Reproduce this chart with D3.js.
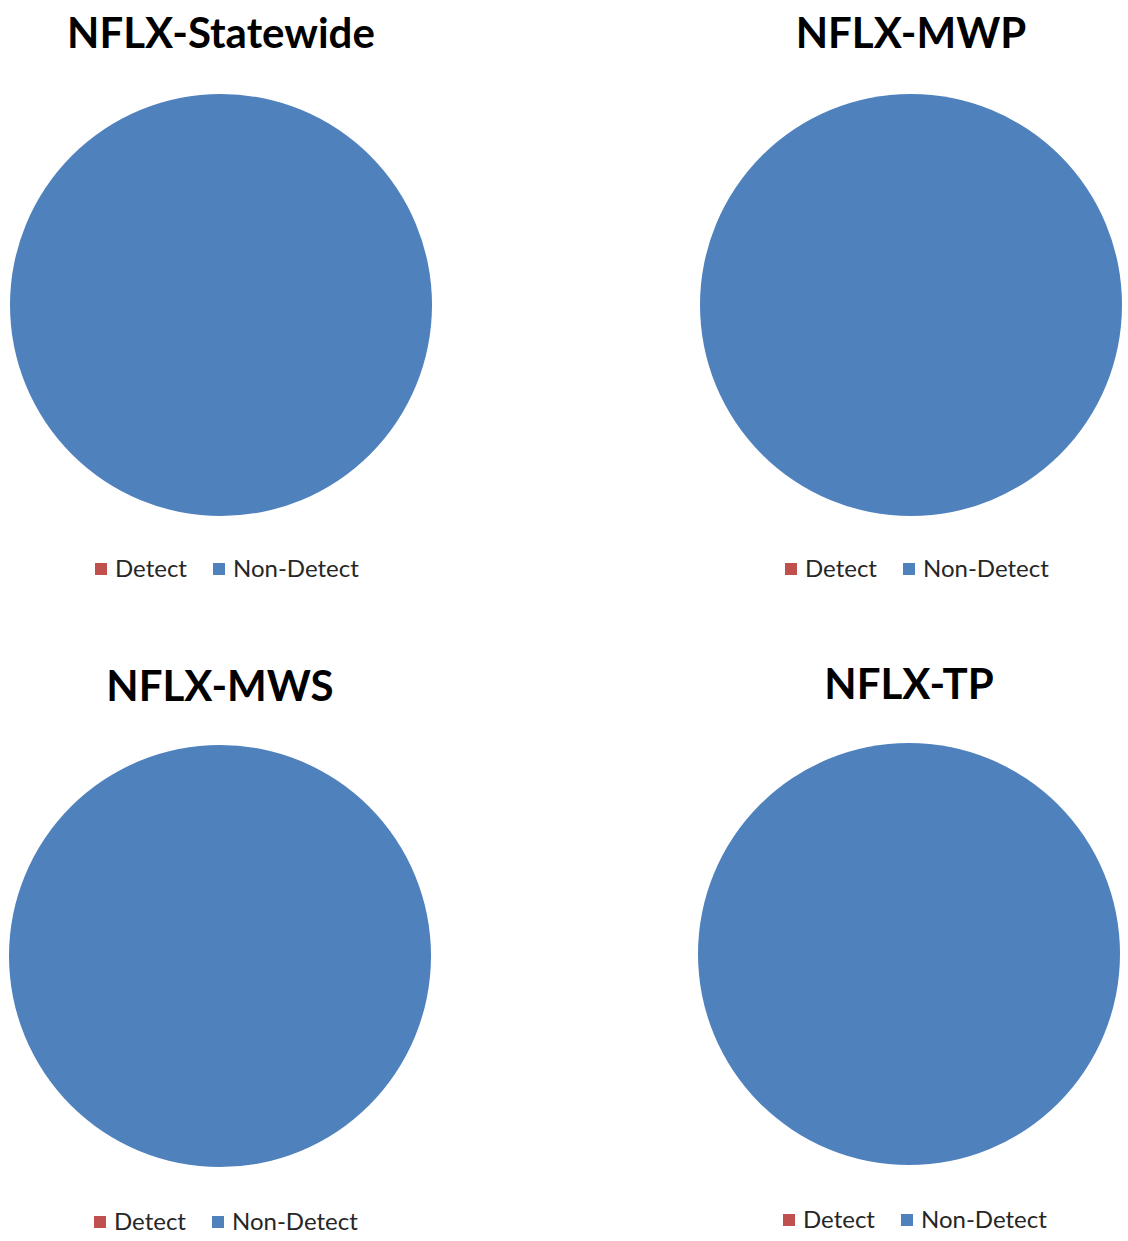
<!DOCTYPE html>
<html>
<head>
<meta charset="utf-8">
<script src="https://cdn.jsdelivr.net/npm/d3@7"></script>
<style>
  html, body { margin: 0; padding: 0; background: #ffffff; }
  svg { display: block; }
</style>
</head>
<body>
<script>
// ---- data ----
const chartTitles = ["NFLX-Statewide", "NFLX-MWP", "NFLX-MWS", "NFLX-TP"];
const categories = ["Detect", "Non-Detect"];
const detectValues = [0, 0, 0, 0];
const nonDetectValues = [100, 100, 100, 100];
const seriesColors = ["#C0504D", "#4F81BD"];

// ---- layout ----
const W = 1128, H = 1241;
const panelCenters = [[221, 305], [911, 305], [220, 956], [909, 954]];
const titleY = [48, 48, 701, 699];
const legendY = [569, 569, 1222, 1220];
const radius = 211;

const svg = d3.select("body").append("svg").attr("width", W).attr("height", H);

const color = d3.scaleOrdinal().domain(categories).range(seriesColors);
const pie = d3.pie().sort(null).value(d => d.value);
const arc = d3.arc().innerRadius(0).outerRadius(radius);

chartTitles.forEach((t, i) => {
  const [cx, cy] = panelCenters[i];
  const g = svg.append("g");
  const data = [
    { name: categories[0], value: detectValues[i] },
    { name: categories[1], value: nonDetectValues[i] }
  ];
  g.append("text")
    .attr("x", cx).attr("y", titleY[i])
    .attr("text-anchor", "middle")
    .attr("font-family", "Lato, 'Open Sans', sans-serif")
    .attr("font-weight", "bold")
    .attr("font-size", 42)
    .attr("fill", "#000")
    .text(t);

  g.append("g").attr("transform", `translate(${cx},${cy})`)
    .selectAll("path").data(pie(data)).join("path")
    .attr("d", arc)
    .attr("fill", d => color(d.data.name));

  const leg = g.append("g").attr("transform", `translate(${cx - 126},${legendY[i]})`);
  const offsets = [0, 118];
  categories.forEach((c, k) => {
    leg.append("rect")
      .attr("x", offsets[k]).attr("y", -6)
      .attr("width", 12).attr("height", 12)
      .attr("fill", color(c));
    leg.append("text")
      .attr("x", offsets[k] + 20).attr("y", 0)
      .attr("dy", "0.35em")
      .attr("font-family", "Lato, 'Open Sans', sans-serif")
      .attr("font-size", 24)
      .attr("fill", "#262626")
      .text(c);
  });
});
</script>
</body>
</html>
